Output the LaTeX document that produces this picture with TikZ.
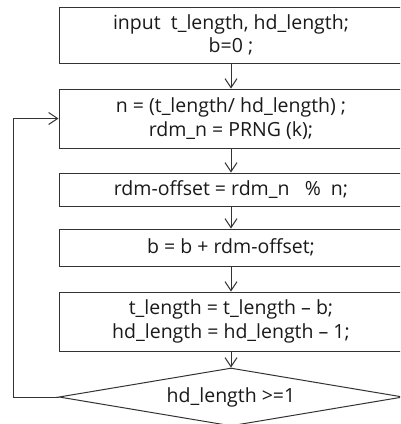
\documentclass[tikz,border=0pt]{standalone}
\usepackage{fontspec}
\setmainfont{Open Sans}
\usetikzlibrary{arrows.meta,shapes.geometric}
\definecolor{ln}{HTML}{333333}
\definecolor{tx}{HTML}{1A1A1A}
\tikzset{
  box/.style={draw=ln, line width=1pt, rectangle, minimum width=344pt, inner sep=0pt, align=center, text=tx, font=\fontsize{19.5}{23.5}\selectfont},
  dia/.style={draw=ln, line width=1pt, diamond, aspect=5.93, minimum width=344pt, minimum height=58pt, inner sep=0pt, text=tx, font=\fontsize{19.5}{23.5}\selectfont},
  arr/.style={draw=ln, line width=1pt, -{Straight Barb[length=9pt,width=12pt,line width=1pt]}}
}
\begin{document}
\begin{tikzpicture}[x=1pt,y=-1pt]
\clip (0,0) rectangle (400,424);
\fill[white] (0,0) rectangle (400,424);
\node[box, minimum height=56pt] (b1) at (231,35) {input\ \ t\_length, hd\_length;\\ b=0 ;};
\node[box, minimum height=59pt] (b2) at (231,118.5) {n = (t\_length/ hd\_length) ;\\ rdm\_n = PRNG (k);};
\node[box, minimum height=33pt] (b3) at (231,189.5) {rdm-offset = rdm\_n\ \ \ \%\ \ n;};
\node[box, minimum height=37pt] (b4) at (231,247.5) {b = b + rdm-offset;};
\node[box, minimum height=59pt] (b5) at (231,321.5) {t\_length = t\_length – b;\\ hd\_length = hd\_length – 1;};
\node[dia] (d) at (231,397) {hd\_length >=1};
\coordinate (c1) at (13,397);
\coordinate (c2) at (13,118.5);
\draw[arr] (b1) -- (b2);
\draw[arr] (b2) -- (b3);
\draw[arr] (b3) -- (b4);
\draw[arr] (b4) -- (b5);
\draw[arr] (b5) -- (d);
\draw[arr] (d.west) -- (c1) -- (c2) -- (b2.west);
\end{tikzpicture}
\end{document}
